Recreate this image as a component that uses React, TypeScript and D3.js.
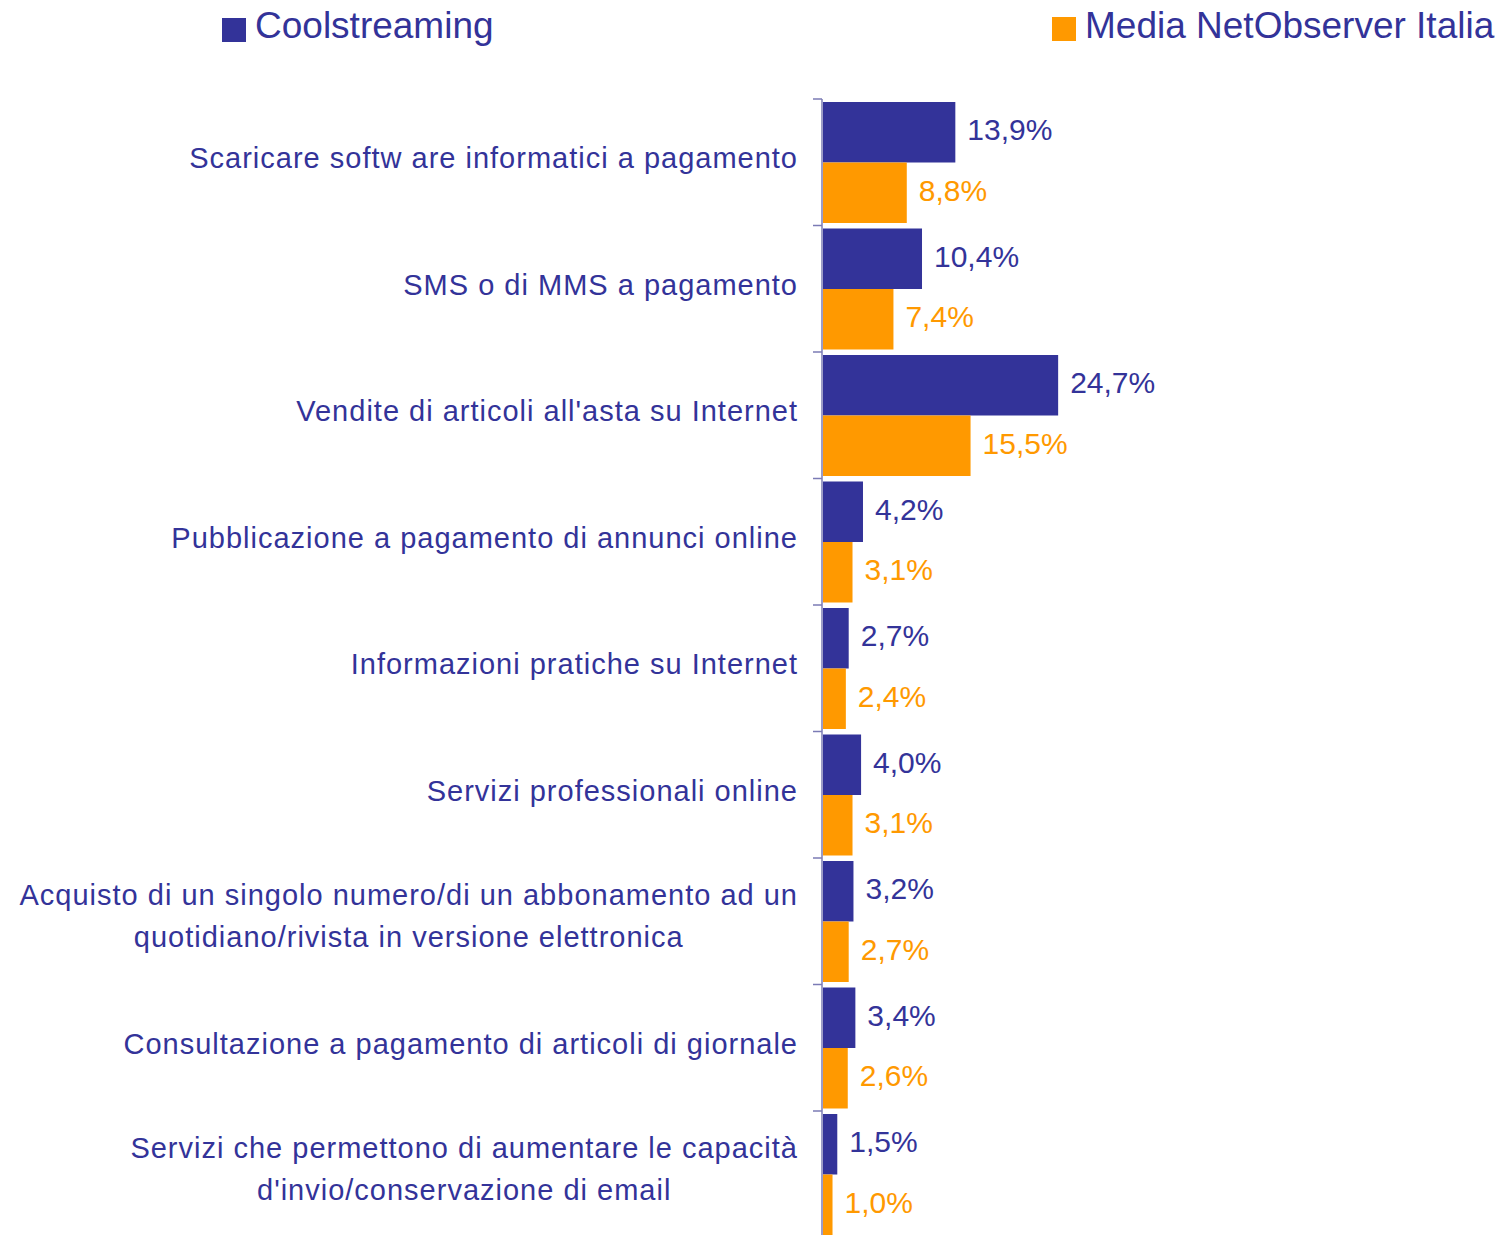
import React, { useEffect, useRef } from "react";
import * as d3 from "d3";

const categories: string[][] = [
  ["Scaricare softw are informatici a pagamento"],
  ["SMS o di MMS a pagamento"],
  ["Vendite di articoli all'asta su Internet"],
  ["Pubblicazione a pagamento di annunci online"],
  ["Informazioni pratiche su Internet"],
  ["Servizi professionali online"],
  ["Acquisto di un singolo numero/di un abbonamento ad un", "quotidiano/rivista in versione elettronica"],
  ["Consultazione a pagamento di articoli di giornale"],
  ["Servizi che permettono di aumentare le capacità", "d'invio/conservazione di email"],
];
const coolstreaming: number[] = [13.9, 10.4, 24.7, 4.2, 2.7, 4.0, 3.2, 3.4, 1.5];
const mediaNetObserver: number[] = [8.8, 7.4, 15.5, 3.1, 2.4, 3.1, 2.7, 2.6, 1.0];
const seriesNames: string[] = ["Coolstreaming", "Media NetObserver Italia"];
const seriesColors: string[] = ["#333399", "#FF9900"];

const W = 1499;
const H = 1235;
const FONT = "'Liberation Sans', Arial, Helvetica, sans-serif";
const TEXT = "#333399";

export default function App() {
  const ref = useRef<SVGSVGElement | null>(null);

  useEffect(() => {
    document.body.style.margin = "0";
    document.documentElement.style.overflow = "hidden";
    const svg = d3.select(ref.current);
    svg.selectAll("*").remove();

    const idx = categories.map((_, i) => String(i));
    const band = 126.5;
    const top = 99;
    const y = d3.scaleBand<string>().domain(idx).range([top, top + band * idx.length]).padding(0);
    const sub = d3.scaleBand<string>().domain(["0", "1"]).range([3, band - 2.5]).padding(0);
    const x = d3.scaleLinear().domain([0, 30]).range([823, 823 + 30 * 9.52]);

    const data = categories.map((c, i) => ({ i: String(i), vals: [coolstreaming[i], mediaNetObserver[i]] }));

    const g = svg.append("g");
    const groups = g.selectAll("g.grp").data(data).join("g").attr("class", "grp")
      .attr("transform", (d) => `translate(0,${y(d.i)})`);

    groups.selectAll("rect").data((d) => d.vals.map((v, k) => ({ v, k })))
      .join("rect")
      .attr("x", x(0))
      .attr("y", (d) => sub(String(d.k))!)
      .attr("width", (d) => x(d.v) - x(0))
      .attr("height", sub.bandwidth())
      .attr("fill", (d) => seriesColors[d.k]);

    const fmt = (v: number) => v.toFixed(1).replace(".", ",") + "%";
    groups.selectAll("text.val").data((d) => d.vals.map((v, k) => ({ v, k })))
      .join("text").attr("class", "val")
      .attr("x", (d) => x(d.v) + 12)
      .attr("y", (d) => sub(String(d.k))! + sub.bandwidth() / 2 + 8)
      .attr("fill", (d) => seriesColors[d.k])
      .attr("font-family", FONT)
      .attr("font-size", 30)
      .text((d) => fmt(d.v));

    // axis
    const axisColor = "#7b7bb5";
    g.append("line").attr("x1", 822).attr("x2", 822).attr("y1", top).attr("y2", H + 10)
      .attr("stroke", axisColor).attr("stroke-width", 1.5);
    g.selectAll("line.tick").data(d3.range(idx.length + 1)).join("line").attr("class", "tick")
      .attr("x1", 813).attr("x2", 822)
      .attr("y1", (k) => top + k * band).attr("y2", (k) => top + k * band)
      .attr("stroke", axisColor).attr("stroke-width", 1.5);

    // category labels
    const rightEdge = 798;
    data.forEach((d, i) => {
      const lines = categories[i];
      const cy = y(d.i)! + band / 2;
      const texts = lines.map((ln, li) => {
        const base = lines.length === 1 ? cy + 6 : cy - 16.5 + li * 42;
        return g.append("text")
          .attr("y", base)
          .attr("fill", TEXT)
          .attr("font-family", FONT)
          .attr("font-size", 29)
          .attr("letter-spacing", 1.0)
          .attr("text-anchor", "middle")
          .text(ln);
      });
      const widths = texts.map((t) => (t.node() as SVGTextElement).getComputedTextLength());
      const maxW = Math.max(...widths);
      texts.forEach((t) => t.attr("x", rightEdge - maxW / 2));
    });

    // legend
    const legend = [
      { sx: 222, sy: 18, tx: 255 },
      { sx: 1052, sy: 17, tx: 1085 },
    ];
    legend.forEach((l, k) => {
      g.append("rect").attr("x", l.sx).attr("y", l.sy).attr("width", 24).attr("height", 24).attr("fill", seriesColors[k]);
      g.append("text").attr("x", l.tx).attr("y", 38).attr("fill", TEXT)
        .attr("font-family", FONT).attr("font-size", 37).text(seriesNames[k]);
    });
  }, []);

  return (
    <svg ref={ref} width={W} height={H} style={{ display: "block", position: "absolute", left: 0, top: 0, background: "#fff" }} />
  );
}
